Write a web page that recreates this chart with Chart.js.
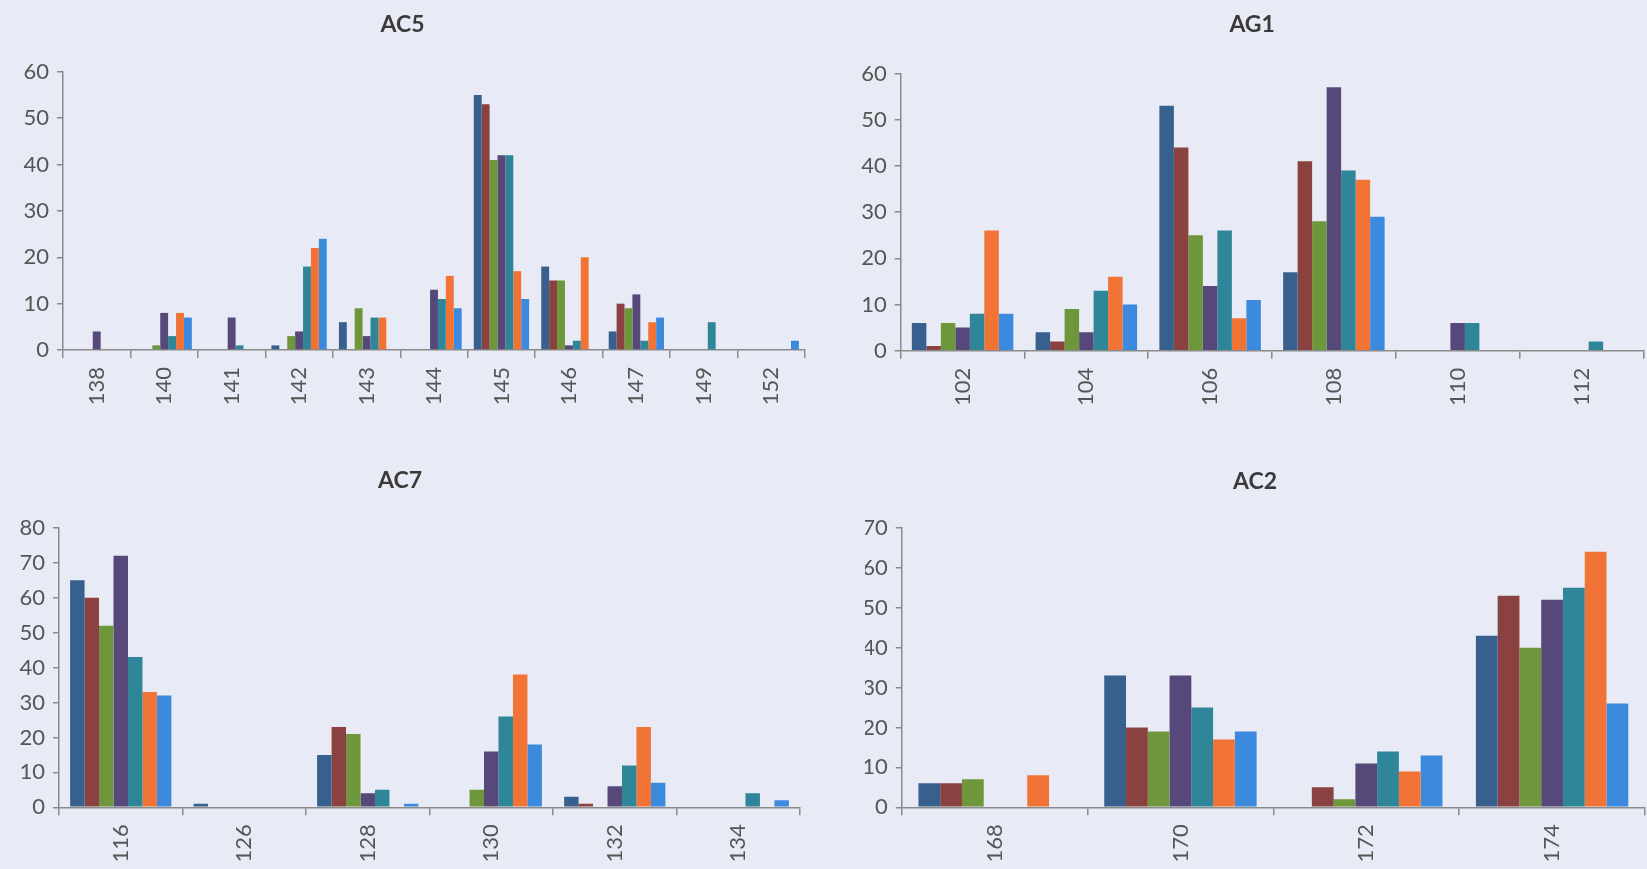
<!DOCTYPE html>
<html>
<head>
<meta charset="utf-8">
<script src="https://cdn.jsdelivr.net/npm/chart.js@4/dist/chart.umd.min.js"></script>
<style>
  html, body { margin: 0; padding: 0; background: #e8ebf5; }
  body { width: 1647px; height: 869px; position: relative; overflow: hidden; }
  .box { position: absolute; }
</style>
</head>
<body>
<div class="box" id="b1" style="left:0px;top:0px;width:834px;height:430px"><canvas id="c1"></canvas></div>
<div class="box" id="b2" style="left:861px;top:0px;width:786px;height:430px"><canvas id="c2"></canvas></div>
<div class="box" id="b3" style="left:0px;top:440px;width:822px;height:429px"><canvas id="c3"></canvas></div>
<div class="box" id="b4" style="left:865px;top:440px;width:782px;height:429px"><canvas id="c4"></canvas></div>
<script>
// Allele sizes (categories) and frequencies for seven populations per locus
const ac5Labels = ['138', '140', '141', '142', '143', '144', '145', '146', '147', '149', '152'];
const ac5Values = [
  [0, 0, 0, 1, 6, 0, 55, 18, 4, 0, 0],
  [0, 0, 0, 0, 0, 0, 53, 15, 10, 0, 0],
  [0, 1, 0, 3, 9, 0, 41, 15, 9, 0, 0],
  [4, 8, 7, 4, 3, 13, 42, 1, 12, 0, 0],
  [0, 3, 1, 18, 7, 11, 42, 2, 2, 6, 0],
  [0, 8, 0, 22, 7, 16, 17, 20, 6, 0, 0],
  [0, 7, 0, 24, 0, 9, 11, 0, 7, 0, 2]
];

const ag1Labels = ['102', '104', '106', '108', '110', '112'];
const ag1Values = [
  [6, 4, 53, 17, 0, 0],
  [1, 2, 44, 41, 0, 0],
  [6, 9, 25, 28, 0, 0],
  [5, 4, 14, 57, 6, 0],
  [8, 13, 26, 39, 6, 2],
  [26, 16, 7, 37, 0, 0],
  [8, 10, 11, 29, 0, 0]
];

const ac7Labels = ['116', '126', '128', '130', '132', '134'];
const ac7Values = [
  [65, 1, 15, 0, 3, 0],
  [60, 0, 23, 0, 1, 0],
  [52, 0, 21, 5, 0, 0],
  [72, 0, 4, 16, 6, 0],
  [43, 0, 5, 26, 12, 4],
  [33, 0, 0, 38, 23, 0],
  [32, 0, 1, 18, 7, 2]
];

const ac2Labels = ['168', '170', '172', '174'];
const ac2Values = [
  [6, 33, 0, 43],
  [6, 20, 5, 53],
  [7, 19, 2, 40],
  [0, 33, 11, 52],
  [0, 25, 14, 55],
  [8, 17, 9, 64],
  [0, 19, 13, 26]
];

const seriesColors = ['#37608f', '#8a4241', '#6e963b', '#564979', '#2f8699', '#f17436', '#3b8ade'];

const axisColor = '#8a8a8a';
const textColor = '#555555';
const fontFamily = 'Lato, "Open Sans", sans-serif';

function makeChart(id, title, labels, values, yMax, yAxisWidth, xAxisHeight, titlePad, rightPad) {
  const datasets = values.map((vals, i) => ({
    data: vals,
    backgroundColor: seriesColors[i],
    borderWidth: 0,
    barPercentage: 1.0,
    categoryPercentage: 0.82
  }));
  return new Chart(document.getElementById(id), {
    type: 'bar',
    data: { labels: labels, datasets: datasets },
    options: {
      responsive: true,
      maintainAspectRatio: false,
      animation: false,
      layout: { padding: { left: 0, right: rightPad, top: 0, bottom: 0 } },
      plugins: {
        legend: { display: false },
        tooltip: { enabled: false },
        title: {
          display: true,
          text: title,
          color: '#3a3a3a',
          font: { family: fontFamily, size: 23, weight: 'bold', lineHeight: 1.2 },
          padding: titlePad
        }
      },
      scales: {
        x: {
          offset: true,
          grid: {
            display: true,
            offset: true,
            drawOnChartArea: false,
            drawTicks: true,
            tickLength: 8,
            color: axisColor,
            lineWidth: 1.5
          },
          border: { display: true, color: axisColor, width: 1.5 },
          ticks: {
            autoSkip: false,
            minRotation: 90,
            maxRotation: 90,
            padding: 9,
            color: textColor,
            font: { family: fontFamily, size: 22 }
          },
          afterFit: (scale) => { scale.height = xAxisHeight; }
        },
        y: {
          min: 0,
          max: yMax,
          grid: {
            display: true,
            drawOnChartArea: false,
            drawTicks: true,
            tickLength: 6,
            color: axisColor,
            lineWidth: 1.5
          },
          border: { display: true, color: axisColor, width: 1.5 },
          ticks: {
            stepSize: 10,
            padding: 8,
            color: textColor,
            font: { family: fontFamily, size: 22 }
          },
          afterFit: (scale) => { scale.width = yAxisWidth; }
        }
      }
    }
  });
}

makeChart('c1', 'AC5', ac5Labels, ac5Values, 60, 63, 80, { top: 10.8, bottom: 33.5 }, 29);
makeChart('c2', 'AG1', ag1Labels, ag1Values, 60, 39.7, 79.3, { top: 10.8, bottom: 35.1 }, 3.7);
makeChart('c3', 'AC7', ac7Labels, ac7Values, 80, 59, 61.7, { top: 26.8, bottom: 33.5 }, 22);
makeChart('c4', 'AC2', ac2Labels, ac2Values, 70, 36.7, 61.7, { top: 27.3, bottom: 33.0 }, 2);
</script>
</body>
</html>
